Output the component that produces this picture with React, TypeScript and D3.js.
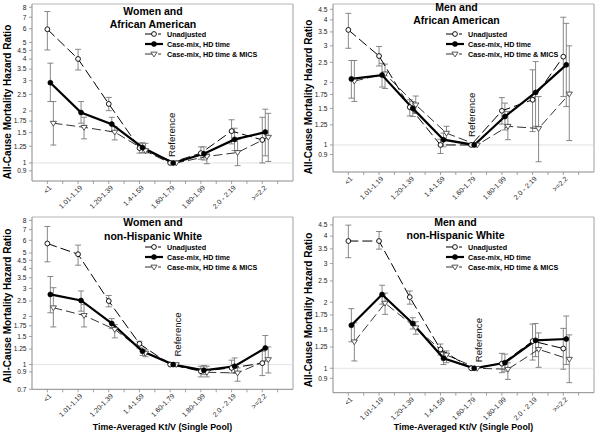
import React from "react";
import * as d3 from "d3";

// ---------- DATA ----------
const categories = ["<1", "1.01-1.19", "1.20-1.39", "1.4-1.59", "1.60-1.79", "1.80-1.99", "2.0 - 2.19", ">=2.2"];
const seriesNames = ["Unadjusted", "Case-mix, HD time", "Case-mix, HD time & MICS"];
const ticksWide = [0.9, 1, 1.25, 1.5, 1.75, 2, 2.5, 3, 3.5, 4, 4.5, 5, 6, 7, 8];
const ticksWideLow = [0.7, 0.9, 1, 1.25, 1.5, 1.75, 2, 2.5, 3, 3.5, 4, 4.5, 5, 6, 7, 8];
const ticksNarrow = [0.9, 1, 1.25, 1.5, 1.75, 2, 2.5, 3, 3.5, 4, 4.5];

// [estimate, lower CI, upper CI]
const womenAA_unadj = [[5.96, 4.52, 7.55], [4.01, 3.46, 4.56], [2.2, 2.01, 2.4], [1.22, 1.14, 1.3], [1, 1, 1], [1.14, 1.05, 1.24], [1.53, 1.29, 1.78], [1.36, 1.0, 1.84]];
const womenAA_case = [[2.92, 2.27, 3.79], [1.96, 1.7, 2.27], [1.68, 1.52, 1.84], [1.23, 1.15, 1.31], [1, 1, 1], [1.13, 1.04, 1.24], [1.37, 1.18, 1.59], [1.51, 1.1, 2.05]];
const womenAA_mics = [[1.7, 1.27, 2.27], [1.61, 1.38, 1.84], [1.51, 1.36, 1.62], [1.18, 1.14, 1.3], [1, 1, 1], [1.09, 0.99, 1.13], [1.15, 0.965, 1.37], [1.41, 1.02, 1.94]];

const menAA_unadj = [[3.58, 2.92, 4.3], [2.68, 2.4, 2.98], [1.52, 1.38, 1.65], [1.0, 0.91, 1.065], [1, 1, 1], [1.46, 1.26, 1.69], [1.65, 1.16, 2.3], [2.66, 1.71, 4.12]];
const menAA_case = [[2.08, 1.68, 2.55], [2.17, 1.9, 2.47], [1.5, 1.37, 1.62], [1.06, 0.98, 1.14], [1, 1, 1], [1.37, 1.18, 1.59], [1.79, 1.23, 2.52], [2.43, 1.53, 3.85]];
const menAA_mics = [[2.03, 1.62, 2.55], [2.2, 1.87, 2.45], [1.56, 1.42, 1.72], [1.14, 1.05, 1.23], [1, 1, 1], [1.23, 1.06, 1.45], [1.2, 0.83, 1.71], [1.76, 1.05, 3.0]];

const womenW_unadj = [[5.73, 4.4, 7.33], [4.91, 4.19, 5.6], [2.5, 2.3, 2.71], [1.35, 1.27, 1.4], [1, 1, 1], [0.908, 0.837, 0.976], [0.953, 0.886, 1.065], [1.02, 0.853, 1.21]];
const womenW_case = [[2.75, 2.11, 3.56], [2.52, 2.16, 2.89], [1.81, 1.68, 1.94], [1.21, 1.14, 1.27], [1, 1, 1], [0.921, 0.865, 0.986], [0.976, 0.886, 1.1], [1.27, 1.05, 1.52]];
const womenW_mics = [[2.27, 1.72, 3.03], [2.03, 1.72, 2.38], [1.66, 1.47, 1.78], [1.18, 1.12, 1.24], [1, 1, 1], [0.895, 0.837, 0.976], [0.886, 0.786, 0.953], [1.075, 0.886, 1.29]];

const menW_unadj = [[3.8, 3.19, 4.49], [3.8, 3.49, 4.2], [2.11, 1.96, 2.25], [1.22, 1.15, 1.29], [1, 1, 1], [1.05, 0.955, 1.17], [1.33, 1.09, 1.59], [1.23, 0.99, 1.52]];
const menW_case = [[1.57, 1.32, 1.87], [2.17, 1.96, 2.39], [1.6, 1.51, 1.7], [1.11, 1.04, 1.18], [1, 1, 1], [1.06, 0.97, 1.16], [1.34, 1.13, 1.6], [1.36, 1.04, 1.73]];
const menW_mics = [[1.32, 1.08, 1.61], [1.98, 1.76, 2.2], [1.53, 1.43, 1.63], [1.15, 1.06, 1.2], [1, 1, 1], [0.99, 0.89, 1.06], [1.22, 1.01, 1.45], [1.1, 0.86, 1.42]];

// ---------- LAYOUT ----------
const FONT = "'Liberation Sans', Arial, Helvetica, sans-serif";

const panels = [
  { title: ["Women and", "African American"], series: [womenAA_unadj, womenAA_case, womenAA_mics], ticks: ticksWide,
    left: 32, right: 293, top: 4, bottom: 181, yDom: [0.786, 8.35], titleX: 121, titleY: 10.5, refDx: 1, refDy: 6, yTitleY: 102, xTitle: false },
  { title: ["Men and", "African American"], series: [menAA_unadj, menAA_case, menAA_mics], ticks: ticksNarrow,
    left: 333, right: 594, top: 4, bottom: 172, yDom: [0.741, 4.77], titleX: 123.5, titleY: 7, refDx: 0, refDy: 8, yTitleY: 97, xTitle: false },
  { title: ["Women and", "non-Hispanic White"], series: [womenW_unadj, womenW_case, womenW_mics], ticks: ticksWideLow,
    left: 32, right: 293, top: 217, bottom: 389.3, yDom: [0.7, 8.4], titleX: 121, titleY: 9.4, refDx: 7.5, refDy: 8, yTitleY: 306, xTitle: true },
  { title: ["Men and", "non-Hispanic White"], series: [menW_unadj, menW_case, menW_mics], ticks: ticksNarrow,
    left: 333, right: 594, top: 217, bottom: 392.7, yDom: [0.774, 4.89], titleX: 122.5, titleY: 8.7, refDx: 7, refDy: 6, yTitleY: 310, xTitle: true },
];

const seriesDx = [0, 3, 6];
const axisColor = "#8a8a8a";
const errColor = "#7a7a7a";

function Marker({ kind, x, y }: { kind: number; x: number; y: number }) {
  if (kind === 0) return <circle cx={x} cy={y} r={2.4} fill="#fff" stroke="#000" strokeWidth={0.9} />;
  if (kind === 1) return <circle cx={x} cy={y} r={2.5} fill="#000" stroke="#000" strokeWidth={0.6} />;
  const s = 3.1;
  return <path d={`M${x - s},${y - s * 0.6}L${x + s},${y - s * 0.6}L${x},${y + s * 0.95}Z`} fill="#fff" stroke="#444" strokeWidth={0.9} />;
}

function Panel({ p }: { p: any }) {
  const x = d3.scaleLinear().domain([0.5, 9]).range([p.left, p.right]);
  const y = d3.scaleLog().domain(p.yDom).range([p.bottom, p.top]);
  const lineGen = d3.line<[number, number]>().x((d) => d[0]).y((d) => d[1]);
  const styles = [
    { stroke: "#000", width: 1, dash: "10,4" },
    { stroke: "#000", width: 2.2, dash: "none" },
    { stroke: "#333", width: 1, dash: "9,4" },
  ];
  const xTicks = d3.range(1, 9, 0.5);
  const lx = p.left + 122;
  const ly0 = p.top + 30;
  return (
    <g>
      {/* frame */}
      <line x1={p.left} x2={p.right} y1={p.top} y2={p.top} stroke="#b5b5b5" strokeWidth={1} />
      <line x1={p.right} x2={p.right} y1={p.top} y2={p.bottom} stroke="#a0a0a0" strokeWidth={1} />
      {/* reference line */}
      <line x1={p.left} x2={p.right} y1={y(1)} y2={y(1)} stroke="#dcdcdc" strokeWidth={0.8} />
      {/* axes */}
      <line x1={p.left} x2={p.left} y1={p.top} y2={p.bottom} stroke={axisColor} strokeWidth={1} />
      <line x1={p.left} x2={p.right} y1={p.bottom} y2={p.bottom} stroke={axisColor} strokeWidth={1} />
      {p.ticks.map((t: number) => (
        <g key={"yt" + t}>
          <line x1={p.left - 3} x2={p.left} y1={y(t)} y2={y(t)} stroke={axisColor} strokeWidth={0.8} />
          <text x={p.left - 5.5} y={y(t)} dy="0.35em" textAnchor="end" fontSize={6.6} fill="#222" fontFamily={FONT}>{t}</text>
        </g>
      ))}
      {xTicks.map((t: number) => (
        <line key={"xt" + t} x1={x(t)} x2={x(t)} y1={p.bottom} y2={p.bottom + 3} stroke={axisColor} strokeWidth={0.8} />
      ))}
      {categories.map((c, i) => (
        <text key={"xl" + i} transform={`translate(${x(i + 1) + 3},${p.bottom + 5.5}) rotate(-45)`} textAnchor="end" dy="0.35em" fontSize={7} fill="#222" fontFamily={FONT}>{c}</text>
      ))}
      {/* error bars */}
      {p.series.map((s: number[][], si: number) =>
        s.map((d, i) => {
          if (d[1] === d[2]) return null;
          const cx = x(i + 1) + seriesDx[si];
          return (
            <g key={`e${si}-${i}`} stroke={errColor} strokeWidth={0.9}>
              <line x1={cx} x2={cx} y1={y(d[1])} y2={y(d[2])} />
              <line x1={cx - 3} x2={cx + 3} y1={y(d[1])} y2={y(d[1])} />
              <line x1={cx - 3} x2={cx + 3} y1={y(d[2])} y2={y(d[2])} />
            </g>
          );
        })
      )}
      {/* lines */}
      {[2, 0, 1].map((si) => {
        const pts = p.series[si].map((d: number[], i: number) => [x(i + 1) + seriesDx[si], y(d[0])] as [number, number]);
        return <path key={"l" + si} d={lineGen(pts) || ""} fill="none" stroke={styles[si].stroke} strokeWidth={styles[si].width} strokeDasharray={styles[si].dash} />;
      })}
      {/* markers */}
      {[2, 0, 1].map((si) =>
        p.series[si].map((d: number[], i: number) => (
          <Marker key={`m${si}-${i}`} kind={si} x={x(i + 1) + seriesDx[si]} y={y(d[0])} />
        ))
      )}
      {/* Reference label */}
      <text transform={`translate(${x(5) + p.refDx},${y(1) - p.refDy}) rotate(-90)`} textAnchor="start" dominantBaseline="central" fontSize={9.6} fill="#111" fontFamily={FONT}>Reference</text>
      {/* title */}
      {p.title.map((t: string, i: number) => (
        <text key={"t" + i} x={p.left + p.titleX} y={p.top + p.titleY + i * 13.2} textAnchor="middle" fontSize={10.5} fontWeight="bold" fill="#000" fontFamily={FONT}>{t}</text>
      ))}
      {/* legend */}
      {seriesNames.map((n, si) => {
        const yy = ly0 + si * 10;
        return (
          <g key={"lg" + si}>
            {si === 1 ? (
              <line x1={lx - 9} x2={lx + 9} y1={yy} y2={yy} stroke="#000" strokeWidth={2.2} />
            ) : (
              <g stroke={styles[si].stroke} strokeWidth={1}>
                <line x1={lx - 9} x2={lx - 2} y1={yy} y2={yy} />
                <line x1={lx + 4} x2={lx + 7} y1={yy} y2={yy} />
              </g>
            )}
            <Marker kind={si} x={lx} y={yy} />
            <text x={lx + 13} y={yy} dy="0.35em" fontSize={7.2} fontWeight="bold" fill="#000" fontFamily={FONT}>{n}</text>
          </g>
        );
      })}
      {/* y axis title */}
      <text transform={`translate(${p.left - 24.5},${p.yTitleY}) rotate(-90)`} textAnchor="middle" dominantBaseline="central" fontSize={10} fontWeight="bold" fill="#000" fontFamily={FONT}>All-Cause Mortality Hazard Ratio</text>
      {p.xTitle && (
        <text x={(p.left + p.right) / 2} y={429.8} textAnchor="middle" fontSize={8.8} fontWeight="bold" fill="#000" fontFamily={FONT}>Time-Averaged Kt/V (Single Pool)</text>
      )}
    </g>
  );
}

export default function App() {
  return (
    <svg width={600} height={433} viewBox="0 0 600 433" style={{ position: "absolute", left: 0, top: 0, background: "#fff" }}>
      <rect x={0} y={0} width={600} height={433} fill="#fff" />
      {panels.map((p, i) => (
        <Panel key={i} p={p} />
      ))}
    </svg>
  );
}
